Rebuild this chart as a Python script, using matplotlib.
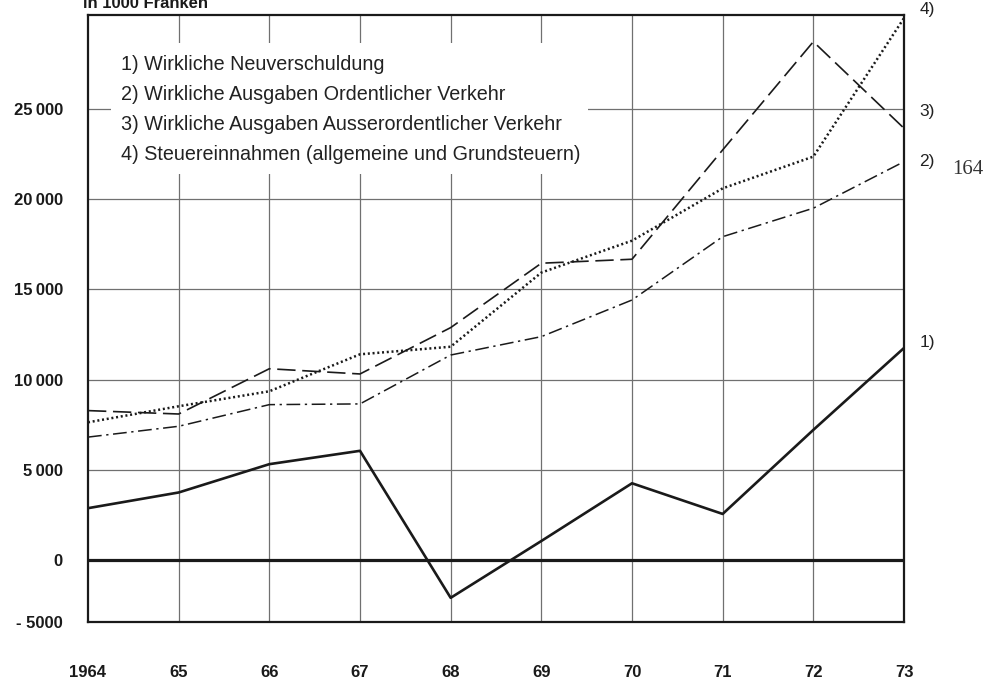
import matplotlib.pyplot as plt
from matplotlib.patches import Rectangle

# Jahreswerte in 1000 Franken
jahre = [1964, 1965, 1966, 1967, 1968, 1969, 1970, 1971, 1972, 1973]
jahr_labels = ["1964", "65", "66", "67", "68", "69", "70", "71", "72", "73"]

neuverschuldung = [2870, 3740, 5310, 6050, -2100, 1050, 4250, 2550, 7210, 11750]
ausgaben_ordentlich = [6810, 7410, 8610, 8650, 11360, 12380, 14410, 17920, 19500, 22080]
ausgaben_ausserordentlich = [8280, 8090, 10600, 10310, 12880, 16450, 16670, 22730, 28730, 23930]
steuereinnahmen = [7630, 8520, 9350, 11400, 11820, 15930, 17700, 20600, 22360, 30040]

legende = [
    "1) Wirkliche Neuverschuldung",
    "2) Wirkliche Ausgaben Ordentlicher Verkehr",
    "3) Wirkliche Ausgaben Ausserordentlicher Verkehr",
    "4) Steuereinnahmen (allgemeine und Grundsteuern)",
]

Y_UNTEN = -3440
Y_OBEN = 30210
y_ticks = [Y_UNTEN, 0, 5000, 10000, 15000, 20000, 25000]
y_labels = ["- 5000", "0", "5\u2009000", "10\u2009000", "15\u2009000", "20\u2009000", "25\u2009000"]

plt.rcParams['font.family'] = ['Liberation Sans', 'DejaVu Sans']

fig = plt.figure(figsize=(9.85, 6.85), dpi=100)
ax = fig.add_axes([88 / 985, 63 / 685, 816 / 985, 607 / 685])

# Gitter
for j in jahre[1:-1]:
    ax.axvline(j, color="#707070", lw=0.9, zorder=1)
for v in [5000, 10000, 15000, 20000, 25000]:
    ax.axhline(v, color="#707070", lw=0.9, zorder=1)
ax.axhline(0, color="#1a1a1a", lw=2.3, zorder=2)

# weisses Feld hinter der Legende
ax.add_patch(Rectangle((0.028, 0.738), 0.585, 0.216, transform=ax.transAxes,
                       facecolor="white", edgecolor="none", zorder=3))
for i, txt in enumerate(legende):
    ax.text(0.041, 0.919 - i * 0.0494, txt, transform=ax.transAxes, fontsize=14.2,
            color="#222222", va="center", ha="left", zorder=4)

ax.plot(jahre, neuverschuldung, color="#1a1a1a", lw=1.9, zorder=5)
ax.plot(jahre, ausgaben_ordentlich, color="#1a1a1a", lw=1.1,
        linestyle=(0, (9, 3, 1.5, 3)), zorder=5)
ax.plot(jahre, ausgaben_ausserordentlich, color="#1a1a1a", lw=1.2,
        linestyle=(0, (11, 4)), zorder=5)
ax.plot(jahre, steuereinnahmen, color="#1a1a1a", lw=1.8,
        linestyle=(0, (0.8, 1.1)), zorder=5)

ax.set_xlim(1964, 1973)
ax.set_ylim(Y_UNTEN, Y_OBEN)

ax.set_xticks(jahre)
ax.set_xticklabels(jahr_labels, fontsize=12, fontweight="bold", color="#1a1a1a")
ax.set_yticks(y_ticks)
ax.set_yticklabels(y_labels, fontsize=12, fontweight="bold", color="#1a1a1a")
ax.tick_params(axis="x", length=0, pad=31)
ax.tick_params(axis="y", length=0, pad=18)

for s in ax.spines.values():
    s.set_linewidth(1.6)
    s.set_color("#1a1a1a")

# Kennziffern am rechten Rand
rechts = [("4)", steuereinnahmen[-1], 6), ("3)", ausgaben_ausserordentlich[-1], 12),
          ("2)", ausgaben_ordentlich[-1], 0), ("1)", neuverschuldung[-1], 4)]
for lab, wert, dy in rechts:
    ax.annotate(lab, (1973, wert), xytext=(11, dy), textcoords="offset points",
                fontsize=12.5, color="#222222", va="center", ha="left",
                annotation_clip=False)

fig.text(83 / 985, 1 - 8 / 685, "in 1000 Franken", fontsize=12, fontweight="bold",
         color="#1a1a1a", va="baseline", ha="left")
fig.text(968 / 985, 1 - 170 / 685, "164", fontsize=15, family="Liberation Serif",
         color="#333333", va="center", ha="center")

fig.savefig("out.png", dpi=100)
